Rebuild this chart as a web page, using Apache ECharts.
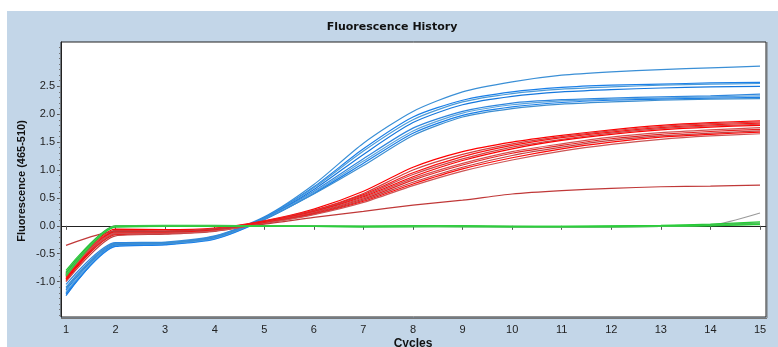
<!DOCTYPE html>
<html>
<head>
<meta charset="utf-8">
<script src="https://cdn.jsdelivr.net/npm/echarts@6/dist/echarts.min.js"></script>
<style>
html,body{margin:0;padding:0;background:#ffffff;}
#c{width:778px;height:347px;}
</style>
</head>
<body>
<div id="c"></div>
<script>
// ---- data ----
const cycles = [1,2,3,4,5,6,7,8,9,10,11,12,13,14,15];
const xTickLabels = [1,2,3,4,5,6,7,8,9,10,11,12,13,14,15];
const yTickLabels = [-1.0,-0.5,0.0,0.5,1.0,1.5,2.0,2.5];

const blue1 = [-1.10,-0.31,-0.29,-0.18,0.16,0.74,1.48,2.05,2.40,2.58,2.70,2.76,2.80,2.83,2.86];
const blue2 = [-1.15,-0.33,-0.31,-0.20,0.15,0.70,1.38,1.95,2.25,2.40,2.48,2.52,2.54,2.56,2.57];
const blue3 = [-1.20,-0.34,-0.32,-0.21,0.14,0.68,1.34,1.90,2.22,2.37,2.45,2.49,2.52,2.54,2.55];
const blue4 = [-1.25,-0.35,-0.33,-0.22,0.13,0.65,1.28,1.85,2.17,2.32,2.40,2.44,2.47,2.49,2.50];
const blue5 = [-1.05,-0.30,-0.30,-0.19,0.14,0.62,1.20,1.75,2.05,2.20,2.26,2.29,2.31,2.33,2.36];
const blue6 = [-1.18,-0.36,-0.33,-0.23,0.12,0.60,1.16,1.70,2.02,2.17,2.24,2.27,2.29,2.31,2.33];
const blue7 = [-1.22,-0.37,-0.34,-0.24,0.11,0.58,1.12,1.66,1.98,2.13,2.21,2.25,2.27,2.29,2.30];
const blue8 = [-1.12,-0.32,-0.31,-0.20,0.12,0.57,1.08,1.62,1.95,2.10,2.18,2.22,2.25,2.27,2.28];

const red1  = [-0.85,-0.06,-0.07,-0.04,0.09,0.30,0.62,1.05,1.33,1.50,1.62,1.72,1.80,1.85,1.88];
const red2  = [-0.88,-0.08,-0.09,-0.05,0.08,0.28,0.58,1.00,1.28,1.47,1.60,1.70,1.78,1.83,1.86];
const red3  = [-0.92,-0.10,-0.10,-0.06,0.08,0.27,0.56,0.95,1.24,1.44,1.58,1.68,1.76,1.81,1.84];
const red4  = [-0.95,-0.12,-0.11,-0.07,0.07,0.26,0.54,0.92,1.20,1.41,1.55,1.66,1.74,1.79,1.82];
const red5  = [-0.98,-0.14,-0.12,-0.08,0.07,0.25,0.52,0.88,1.17,1.38,1.53,1.64,1.72,1.77,1.80];
const red6  = [-0.90,-0.15,-0.13,-0.08,0.06,0.24,0.50,0.85,1.12,1.33,1.47,1.59,1.67,1.72,1.76];
const red7  = [-0.93,-0.16,-0.14,-0.09,0.06,0.23,0.48,0.82,1.09,1.30,1.44,1.56,1.64,1.69,1.73];
const red8  = [-1.00,-0.18,-0.15,-0.10,0.05,0.22,0.46,0.78,1.05,1.26,1.41,1.53,1.61,1.66,1.70];
const red9  = [-0.96,-0.11,-0.12,-0.07,0.05,0.21,0.44,0.75,1.02,1.22,1.38,1.50,1.59,1.64,1.68];
const red10 = [-0.87,-0.13,-0.13,-0.09,0.04,0.20,0.42,0.72,0.98,1.18,1.34,1.46,1.55,1.61,1.65];

const darkRed = [-0.35,-0.10,-0.10,-0.06,0.03,0.15,0.26,0.37,0.46,0.57,0.63,0.67,0.70,0.71,0.73];

const gray1 = [-0.85,0.00,0.00,0.00,0.00,-0.01,-0.01,-0.01,-0.01,-0.01,-0.02,-0.02,-0.01,0.01,0.23];

const green1 = [-0.80,0.00,0.01,0.01,0.00,0.00,-0.01,0.00,0.00,-0.01,-0.01,0.00,0.01,0.03,0.07];
const green2 = [-0.83,-0.01,0.00,0.00,0.00,-0.01,-0.02,-0.01,-0.01,-0.02,-0.02,-0.01,0.00,0.02,0.05];
const green3 = [-0.86,-0.02,-0.01,0.00,-0.01,-0.01,-0.02,-0.02,-0.01,-0.02,-0.02,-0.02,-0.01,0.00,0.03];
const green4 = [-0.88,-0.01,0.00,0.00,0.00,0.00,-0.01,-0.01,-0.02,-0.02,-0.03,-0.02,-0.01,0.01,0.04];
const green5 = [-0.90,-0.02,-0.01,-0.01,0.00,-0.01,-0.01,0.00,0.00,-0.01,-0.01,-0.01,0.00,0.01,0.02];

// ---- styling / build ----
const groups = [
  {curves:[blue1,blue2,blue3,blue4,blue5,blue6,blue7,blue8], colors:['#3a8fd6','#1a7fe8','#4b9ad8','#1577dd','#2e86df','#5aa2dc','#1a7fe8','#3d8ed0']},
  {curves:[red1,red2,red3,red4,red5,red6,red7,red8,red9,red10], colors:['#ff0000','#d04040','#ff1010','#c84848','#ff0000','#d05050','#e82020','#c04040','#ff0808','#cc5555']},
  {curves:[darkRed], colors:['#c03838']},
  {curves:[gray1], colors:['#9a9a9a']},
  {curves:[green1,green2,green3,green4,green5], colors:['#22cc33','#33bb44','#1fc22f','#55c060','#2ad03a']}
];

const series = [];
groups.forEach(g => {
  g.curves.forEach((arr, k) => {
    series.push({
      type: 'line',
      data: cycles.map((c, i) => [c, arr[i]]),
      showSymbol: false,
      smooth: 0.25,
      silent: true,
      lineStyle: {color: g.colors[k % g.colors.length], width: 1.2},
      xAxisIndex: 0, yAxisIndex: 0
    });
  });
});

const minorTicks = [];
for (let i = -16; i <= 32; i++) minorTicks.push(i / 10);

const chart = echarts.init(document.getElementById('c'), null, {renderer: 'canvas'});
chart.setOption({
  animation: false,
  backgroundColor: '#ffffff',
  graphic: [
    {type:'rect', z:-10, shape:{x:7, y:11, width:771, height:336}, style:{fill:'#c3d6e8'}},
    {type:'text', x:392, y:27, z:10, style:{text:'Fluorescence History', fill:'#111', font:'bold 11px "DejaVu Sans", Verdana, sans-serif', align:'center', verticalAlign:'middle'}},
    {type:'text', x:22, y:181, rotation:Math.PI/2, z:10, style:{text:'Fluorescence (465-510)', fill:'#111', font:'bold 11px "Liberation Sans", Arial, sans-serif', align:'center', verticalAlign:'middle'}},
    {type:'text', x:413, y:338, z:10, style:{text:'Cycles', fill:'#111', font:'bold 12px "Liberation Sans", Arial, sans-serif', align:'center', verticalAlign:'top'}},
    {type:'line', z:10, shape:{x1:767, y1:42, x2:767, y2:318}, style:{stroke:'#777', lineWidth:1}},
    {type:'line', z:10, shape:{x1:61, y1:318.5, x2:767, y2:318.5}, style:{stroke:'#777', lineWidth:1}}
  ],
  grid: {left:61, right:12, top:42, bottom:30, show:true, backgroundColor:'#ffffff', borderColor:'#222', borderWidth:1},
  xAxis: [{
    type:'value', min:0.899, max:15.121,
    splitLine:{show:false},
    axisLine:{show:true, lineStyle:{color:'#222'}},
    axisTick:{show:true, length:4, lineStyle:{color:'#555'}, customValues: xTickLabels},
    axisLabel:{show:true, margin:7, color:'#222', fontSize:11, fontFamily:'"Liberation Sans", Arial, sans-serif', customValues: xTickLabels}
  }],
  yAxis: [{
    type:'value', min:-1.634, max:3.294,
    splitLine:{show:false},
    axisLine:{show:true, lineStyle:{color:'#222'}},
    axisTick:{show:true, length:4, lineStyle:{color:'#555'}, customValues: yTickLabels},
    axisLabel:{show:true, margin:6, color:'#222', fontSize:11, fontFamily:'"Liberation Sans", Arial, sans-serif', customValues: yTickLabels, formatter: v => Number(v).toFixed(1)}
  },{
    type:'value', min:-1.634, max:3.294, position:'left',
    splitLine:{show:false},
    axisLine:{show:false},
    axisTick:{show:true, length:2, lineStyle:{color:'#777'}, customValues: minorTicks},
    axisLabel:{show:false}
  }],
  series: series
});
</script>
</body>
</html>
